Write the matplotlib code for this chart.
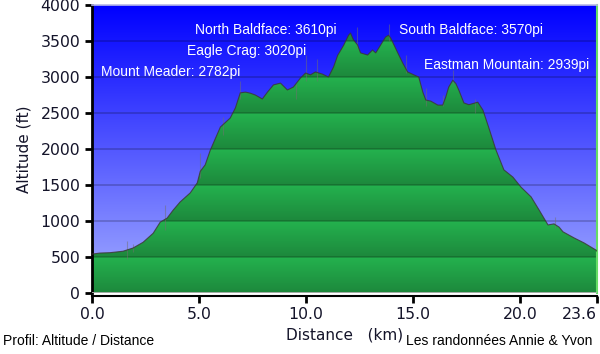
import numpy as np
import matplotlib
matplotlib.use('Agg')
import matplotlib.pyplot as plt
from matplotlib.patches import Polygon

# profile (km, ft)
dist = [0.0, 0.37, 0.84, 1.45, 1.92, 2.39, 2.86, 3.19, 3.51, 3.79, 4.12, 4.59, 4.92, 5.06,
        5.29, 5.53, 6.0, 6.46, 6.70, 6.93, 7.17, 7.40, 7.63, 7.96, 8.20, 8.48, 8.81, 9.13,
        9.41, 9.74, 9.98, 10.21, 10.44, 10.77, 11.05, 11.29, 11.48, 11.76, 11.99, 12.08,
        12.22, 12.41, 12.55, 12.88, 13.11, 13.26, 13.49, 13.72, 13.86, 13.96, 14.29, 14.52,
        14.75, 15.04, 15.27, 15.46, 15.60, 15.83, 16.16, 16.39, 16.53, 16.67, 16.86, 17.0,
        17.14, 17.38, 17.61, 18.03, 18.27, 18.55, 18.88, 19.25, 19.67, 20.05, 20.52, 20.89,
        21.31, 21.59, 21.83, 22.01, 22.53, 23.0, 23.56, 23.6]
alt = [540, 555, 560, 580, 625, 705, 830, 985, 1040, 1150, 1265, 1390, 1530, 1690,
       1780, 1985, 2305, 2430, 2570, 2780, 2790, 2775, 2750, 2695, 2790, 2890, 2915, 2820,
       2860, 2985, 3055, 3030, 3070, 3040, 3000, 3140, 3300, 3440, 3580, 3610,
       3515, 3445, 3335, 3305, 3375, 3335, 3445, 3555, 3580, 3540, 3335, 3195,
       3070, 3030, 3000, 2790, 2680, 2665, 2610, 2610, 2720, 2860, 2955, 2910,
       2820, 2640, 2615, 2650, 2540, 2290, 1985, 1710, 1610, 1470, 1335, 1155,
       945, 960, 915, 850, 765, 695, 595, 580]

# thin GPS glitch spikes (km, low ft, high ft)
spike_x = [0.05, 1.64, 1.92, 3.42, 5.06, 6.1, 6.93, 9.55, 9.98, 10.5, 12.4, 13.86,
           14.66, 15.6, 16.4, 16.86, 17.9, 21.64]
spike_lo = [520, 470, 570, 870, 1600, 2200, 2700, 2700, 2950, 2950, 3400, 3500,
            3050, 2600, 2600, 2900, 2500, 900]
spike_hi = [700, 720, 680, 1220, 1950, 2450, 2950, 2900, 3300, 3250, 3700, 3740,
            3300, 2850, 2750, 3100, 2700, 1060]

peaks = ['North Baldface: 3610pi', 'Eagle Crag: 3020pi', 'Mount Meader: 2782pi',
         'South Baldface: 3570pi', 'Eastman Mountain: 2939pi']
peak_x = [8.10, 7.21, 3.70, 17.70, 19.39]
peak_y = [3650, 3360, 3070, 3650, 3170]

xticks = [0, 5, 10, 15, 20, 23.6]
xlabels = ['0.0', '5.0', '10.0', '15.0', '20.0', '23.6']
yticks = list(range(0, 4001, 500))

fig = plt.figure(figsize=(6, 3.54), dpi=100)
ax = fig.add_axes([92/600, 1-293/354, 505/600, 288/354])
x0, x1, y0, y1 = 0, 23.6, 0, 4000
ax.set_xlim(x0, x1); ax.set_ylim(y0, y1)

# blue sky gradient
t = np.linspace(0, 1, 256)[:, None]
top, bot = np.array([0, 0, 255]) / 255, np.array([165, 175, 255]) / 255
sky = (top * (1 - t) + bot * t)[:, None, :] * np.ones((1, 2, 1))
ax.imshow(sky, extent=[x0, x1, y0, y1], aspect='auto', origin='upper', zorder=0)

# green fill with banded shading, clipped to the profile
poly = Polygon(np.column_stack([[0] + dist + [23.6], [0] + alt + [0]]), closed=True,
               facecolor='none', edgecolor='none')
ax.add_patch(poly)
hy = np.linspace(y1, y0, 800)
f = (4000 - hy) % 500 / 500
light, dark = np.array([36, 178, 78]) / 255, np.array([29, 136, 60]) / 255
band = (light * (1 - f[:, None]) + dark * f[:, None])[:, None, :] * np.ones((1, 2, 1))
im = ax.imshow(band, extent=[x0, x1, y0, y1], aspect='auto', origin='upper', zorder=1)
im.set_clip_path(poly)
ax.vlines(spike_x, spike_lo, spike_hi, color='#707070', lw=0.8, alpha=0.5, zorder=2.5)
ax.plot(dist, alt, color='#3c3434', lw=0.8, alpha=0.8, zorder=3)

for yy in yticks[1:-1]:
    ax.axhline(yy, color='black', alpha=0.22, lw=1.2, zorder=2)
ax.axhline(0, color='#b0b0b0', lw=2, zorder=4)

for s, px, py in zip(peaks, peak_x, peak_y):
    ax.text(px, py, s, color='white', fontsize=10, family='Liberation Sans',
            ha='center', va='center', zorder=5)

ax.spines['left'].set_linewidth(2)
ax.spines['bottom'].set_linewidth(1.5)
ax.spines['bottom'].set_position(('outward', 2))
ax.spines['right'].set_color('#66dd66')
ax.spines['right'].set_linewidth(1.5)
ax.spines['top'].set_color('#b8b8e8')
ax.spines['top'].set_linewidth(1.2)
ax.set_xticks(xticks, xlabels)
ax.set_yticks(yticks)
ax.tick_params(labelsize=11.3, labelcolor='#14142a', width=2, length=5, color='black')
ax.tick_params(axis='x', pad=3)
ax.set_ylabel('Altitude (ft)', fontsize=11, color='#14142a', labelpad=6)
ax.set_xlabel('Distance   (km)', fontsize=11, color='#14142a', labelpad=4)

fig.text(3/600, 1-341/354, 'Profil: Altitude / Distance', fontsize=10,
         family='Liberation Sans', va='center', ha='left')
fig.text(592/600, 1-341/354, 'Les randonnées Annie & Yvon', fontsize=10,
         family='Liberation Sans', va='center', ha='right')

ax.get_xticklabels()[-1].set_horizontalalignment('right')
fig.savefig('out.png', dpi=100)
